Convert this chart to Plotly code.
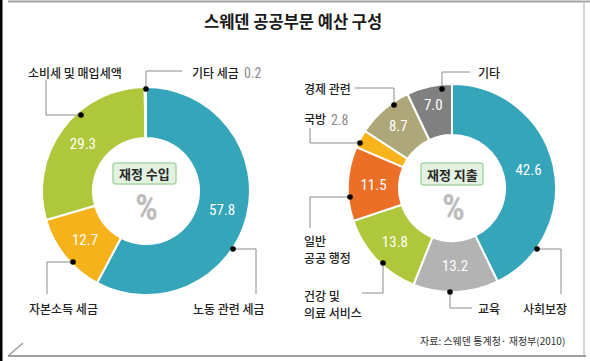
import plotly.graph_objects as go

W, H = 590, 361

# ---------------- data ----------------
rev_labels = ["노동 관련 세금", "자본소득 세금", "소비세 및 매입세액", "기타 세금"]
rev_values = [57.8, 12.7, 29.3, 0.2]
rev_colors = ["#35A5BA", "#F6B21B", "#AFC73A", "#9A9A9A"]

exp_labels = ["사회보장", "교육", "건강 및 의료 서비스", "일반 공공 행정", "국방", "경제 관련", "기타"]
exp_values = [42.6, 13.2, 13.8, 11.5, 2.8, 8.7, 7.0]
exp_colors = ["#35A5BA", "#B3B3B3", "#AFC73A", "#EC6F27", "#F8B41A", "#ADA77A", "#808080"]

title_text = "스웨덴 공공부문 예산 구성"
source_text = "자료: 스웨덴 통계청· 재정부(2010)"

# ---------------- layout helpers ----------------
KR = "Noto Sans CJK KR"
NUM = "Roboto Condensed, Liberation Sans Narrow, DejaVu Sans Condensed, Roboto, sans-serif"


def px(x):
    return x / W


def py(y):
    return 1 - y / H


def domain(cx, cy, r):
    return dict(x=[px(cx - r), px(cx + r)], y=[py(cy + r), py(cy - r)])


R = 104
LC = (146, 191)
RC = (452, 188)


def pie_text(values, hide):
    return [("" if i in hide else f"{v:.1f}") for i, v in enumerate(values)]


fig = go.Figure()
fig.add_trace(go.Pie(
    values=rev_values, labels=rev_labels, sort=False, direction="clockwise", rotation=0,
    hole=0.51, domain=domain(*LC, R),
    marker=dict(colors=rev_colors, line=dict(color="white", width=2)),
    text=pie_text(rev_values, {3}), textinfo="text", textposition="inside",
    insidetextorientation="horizontal",
    textfont=dict(color="white", size=15, family=NUM), hoverinfo="label+value",
    showlegend=False,
))
fig.add_trace(go.Pie(
    values=exp_values, labels=exp_labels, sort=False, direction="clockwise", rotation=0,
    hole=0.51, domain=domain(*RC, R),
    marker=dict(colors=exp_colors, line=dict(color="white", width=2)),
    text=pie_text(exp_values, {4}), textinfo="text", textposition="inside",
    insidetextorientation="horizontal",
    textfont=dict(color="white", size=15, family=NUM), hoverinfo="label+value",
    showlegend=False,
))

shapes = []
annotations = []
LINE = dict(color="#8A8A8A", width=1)


def polyline(points):
    d = "M " + " L ".join(f"{px(x):.5f},{py(y):.5f}" for x, y in points)
    shapes.append(dict(type="path", xref="paper", yref="paper", path=d, line=LINE))


def dot(x, y, r=2.8):
    shapes.append(dict(type="circle", xref="paper", yref="paper",
                       x0=px(x - r), x1=px(x + r), y0=py(y + r), y1=py(y - r),
                       fillcolor="black", line=dict(width=0)))


def text(x, y, s, size=12, color="#222", xanchor="left", family=KR, bold=False, weight=500):
    if bold:
        s = f"<b>{s}</b>"
    annotations.append(dict(x=px(x), y=py(y), xref="paper", yref="paper", text=s,
                            showarrow=False, xanchor=xanchor, yanchor="middle", align="left",
                            font=dict(size=size, color=color, family=family, weight=weight)))


def rounded_box(x0, y0, x1, y1, r=3):
    pts = [
        f"M {px(x0 + r)},{py(y0)}", f"L {px(x1 - r)},{py(y0)}",
        f"Q {px(x1)},{py(y0)} {px(x1)},{py(y0 + r)}", f"L {px(x1)},{py(y1 - r)}",
        f"Q {px(x1)},{py(y1)} {px(x1 - r)},{py(y1)}", f"L {px(x0 + r)},{py(y1)}",
        f"Q {px(x0)},{py(y1)} {px(x0)},{py(y1 - r)}", f"L {px(x0)},{py(y0 + r)}",
        f"Q {px(x0)},{py(y0)} {px(x0 + r)},{py(y0)}", "Z",
    ]
    shapes.append(dict(type="path", xref="paper", yref="paper", path=" ".join(pts),
                       fillcolor="#E4F2E2", line=dict(color="#A9D6A6", width=1.5)))


# ---- frame ----
shapes.append(dict(type="rect", xref="paper", yref="paper", x0=0, x1=px(2.5), y0=0, y1=1,
                   fillcolor="black", line=dict(width=0)))
shapes.append(dict(type="line", xref="paper", yref="paper", x0=px(8), x1=1, y0=py(1.5), y1=py(1.5),
                   line=dict(color="#A3A3A3", width=2)))
shapes.append(dict(type="line", xref="paper", yref="paper", x0=px(584), x1=px(584), y0=py(1), y1=py(357),
                   line=dict(color="#C4C4C4", width=1.5)))
shapes.append(dict(type="line", xref="paper", yref="paper", x0=px(8), x1=px(586), y0=py(356), y1=py(356),
                   line=dict(color="#9E9E9E", width=2)))
shapes.append(dict(type="line", xref="paper", yref="paper", x0=px(8), x1=px(23), y0=py(356), y1=py(343),
                   line=dict(color="#9E9E9E", width=1.5)))

# ---- left donut leaders ----
polyline([(46, 80), (46, 115), (81, 115)]); dot(81, 115)
text(75, 72, "소비세 및 매입세액", xanchor="center")
polyline([(182, 71), (146, 71), (146, 89)]); dot(146, 89)
text(190, 72, "기타 세금")
text(242, 73, "0.2", color="#8A8A8A", family=NUM, size=14, weight=400)
polyline([(73, 262), (47, 262), (47, 294)]); dot(73, 262)
text(27, 308, "자본소득 세금")
polyline([(233, 249), (256, 249), (256, 294)]); dot(233, 249)
text(191, 308, "노동 관련 세금")

# ---- right donut leaders ----
polyline([(470, 72), (442, 72), (442, 89)]); dot(442, 89)
text(476, 72, "기타")
polyline([(355, 88), (394, 88), (394, 105)]); dot(394, 105)
text(302, 88, "경제 관련")
polyline([(310, 128), (310, 143), (360, 143)]); dot(360, 143)
text(302, 119, "국방")
text(329, 120, "2.8", color="#8A8A8A", family=NUM, size=14, weight=400)
polyline([(350, 197), (310, 197), (310, 228)]); dot(350, 197)
text(302, 240, "일반")
text(302, 257, "공공 행정")
polyline([(383, 263), (383, 293), (362, 293)]); dot(383, 263)
text(302, 295, "건강 및")
text(302, 312, "의료 서비스")
polyline([(450, 292), (450, 308), (472, 308)]); dot(450, 292)
text(476, 308, "교육")
polyline([(537, 249), (561, 249), (561, 294)]); dot(537, 249)
text(521, 308, "사회보장")

# ---- centre labels ----
rounded_box(113, 163, 176, 184)
text(LC[0] - 1.5, 173.5, "재정 수입", size=13, xanchor="center", bold=True, color="#2A2A2A")
text(LC[0], 208, "%", size=36, xanchor="center", bold=True, color="#BDBDBD", family=NUM)
rounded_box(421, 163, 483, 185)
text(RC[0], 174, "재정 지출", size=13, xanchor="center", bold=True, color="#2A2A2A")
text(RC[0] + 1, 208, "%", size=36, xanchor="center", bold=True, color="#BDBDBD", family=NUM)

# ---- title & source ----
text(293, 21, title_text, size=16.5, xanchor="center", bold=True, color="#1A1A1A")
text(567, 340, source_text, size=10, xanchor="right", color="#333", weight=400)

fig.update_layout(
    width=W, height=H, margin=dict(l=0, r=0, t=0, b=0),
    paper_bgcolor="white", plot_bgcolor="white",
    shapes=shapes, annotations=annotations,
    font=dict(family=KR),
)

fig.write_html("out.html", include_plotlyjs=True, config={"displayModeBar": False},
               post_script="document.body.style.margin='0';document.body.style.overflow='hidden';")
